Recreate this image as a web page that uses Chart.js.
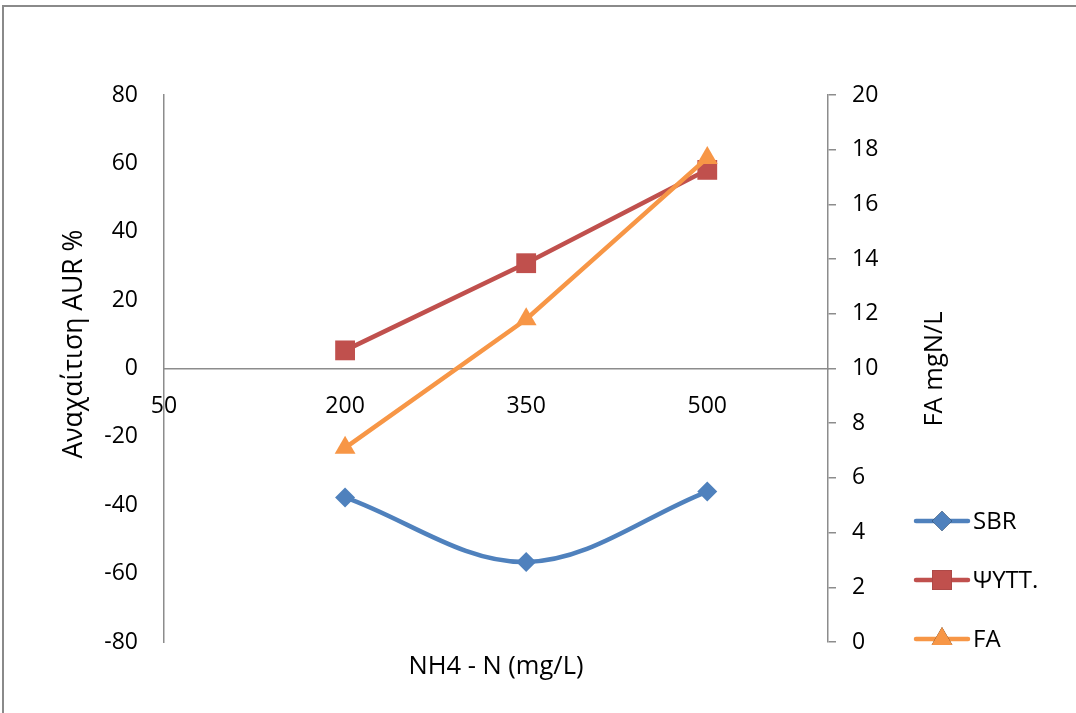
<!DOCTYPE html>
<html>
<head>
<meta charset="utf-8">
<script src="https://cdn.jsdelivr.net/npm/chart.js@4/dist/chart.umd.min.js"></script>
<style>
  html, body { margin: 0; padding: 0; background: #ffffff; }
  #wrap { position: relative; width: 1076px; height: 713px; }
  canvas { display: block; }
</style>
</head>
<body>
<div id="wrap"><canvas id="chart" width="1076" height="713"></canvas></div>
<script>
// NH4-N loading (mg/L) for each run
const nh4Levels = [200, 350, 500];
// AUR inhibition (%) per reactor
const sbrValues = [-37.7, -56.6, -36.0];
const psyttValues = [5.3, 30.8, 58.1];
// Free ammonia (mgN/L)
const faValues = [7.1, 11.8, 17.7];

// Axis tick labels
const xTicks = [50, 200, 350, 500];
const leftTicks = [-80, -60, -40, -20, 0, 20, 40, 60, 80];
const rightTicks = [0, 2, 4, 6, 8, 10, 12, 14, 16, 18, 20];

const seriesNames = ['SBR', 'ΨΥΤΤ.', 'FA'];
const axisTitles = { x: 'NH4 - N (mg/L)', left: 'Αναχαίτιση AUR %', right: 'FA mgN/L' };

const FONT = '"Open Sans", "Liberation Sans", sans-serif';
const AXIS_GREY = '#8c8c8c';

const toPoints = (xs, ys) => xs.map((x, i) => ({ x: x, y: ys[i] }));

const datasets = [
  {
    label: seriesNames[0],
    data: toPoints(nh4Levels, sbrValues),
    yAxisID: 'y',
    borderColor: '#4f81bd',
    backgroundColor: '#4f81bd',
    borderWidth: 4.5,
    pointStyle: 'rectRot',
    pointRadius: 10,
    pointBorderWidth: 0,
    tension: 0.35,
    order: 2
  },
  {
    label: seriesNames[1],
    data: toPoints(nh4Levels, psyttValues),
    yAxisID: 'y',
    borderColor: '#c0504d',
    backgroundColor: '#c0504d',
    borderWidth: 4.5,
    pointStyle: 'rect',
    pointRadius: 14,
    pointBorderWidth: 0,
    tension: 0,
    order: 1
  },
  {
    label: seriesNames[2],
    data: toPoints(nh4Levels, faValues),
    yAxisID: 'y1',
    borderColor: '#f79646',
    backgroundColor: '#f79646',
    borderWidth: 4.5,
    pointStyle: 'triangle',
    pointRadius: 12,
    pointBorderWidth: 0,
    tension: 0,
    order: 0
  }
];

// Frame, axis titles and the side legend
const decorations = {
  id: 'decorations',
  afterDraw(chart) {
    const ctx = chart.ctx;
    ctx.save();
    ctx.strokeStyle = '#8a8a8a';
    ctx.lineWidth = 2;
    ctx.beginPath();
    ctx.moveTo(3, 720);
    ctx.lineTo(3, 6);
    ctx.lineTo(1090, 6);
    ctx.stroke();

    ctx.fillStyle = '#000000';
    ctx.font = '25.5px ' + FONT;
    ctx.textAlign = 'center';
    ctx.textBaseline = 'middle';
    ctx.fillText(axisTitles.x, 496, 667);

    ctx.save();
    ctx.translate(74, 344);
    ctx.rotate(-Math.PI / 2);
    ctx.font = '26.5px ' + FONT;
    ctx.fillText(axisTitles.left, 0, 0);
    ctx.restore();

    ctx.save();
    ctx.translate(935, 369);
    ctx.rotate(-Math.PI / 2);
    ctx.font = '25.5px ' + FONT;
    ctx.fillText(axisTitles.right, 0, 0);
    ctx.restore();

    // legend
    const rows = [521, 580, 639];
    ctx.font = '24px ' + FONT;
    chart.data.datasets.forEach((ds, i) => {
      const y = rows[i];
      ctx.strokeStyle = ds.borderColor;
      ctx.lineWidth = ds.borderWidth;
      ctx.lineCap = 'round';
      ctx.beginPath();
      ctx.moveTo(916, y);
      ctx.lineTo(968, y);
      ctx.stroke();
      Chart.helpers.drawPoint(ctx, {
        pointStyle: ds.pointStyle,
        radius: ds.pointRadius,
        rotation: 0,
        borderWidth: 0
      }, 942, y);
      ctx.fillStyle = ds.backgroundColor;
      ctx.fill();
      ctx.fillStyle = '#000000';
      ctx.textAlign = 'left';
      ctx.fillText(ds.label, 973, y + 1);
    });
    ctx.restore();
  }
};

new Chart(document.getElementById('chart'), {
  type: 'line',
  data: { datasets: datasets },
  plugins: [decorations],
  options: {
    responsive: false,
    animation: false,
    devicePixelRatio: 1,
    layout: { padding: { top: 95, bottom: 71, left: 0, right: 0 } },
    plugins: { legend: { display: false }, tooltip: { enabled: false } },
    scales: {
      x: {
        type: 'linear',
        position: { y: 0 },
        min: 50,
        max: 600,
        afterBuildTicks: (scale) => { scale.ticks = xTicks.map(v => ({ value: v })); },
        grid: { display: false, drawTicks: false },
        border: { display: true, color: AXIS_GREY, width: 1.5 },
        ticks: { color: '#000000', font: { family: FONT, size: 23 }, padding: 24, maxRotation: 0, autoSkip: false }
      },
      y: {
        position: 'left',
        min: -80,
        max: 80,
        afterBuildTicks: (scale) => { scale.ticks = leftTicks.map(v => ({ value: v })); },
        afterFit: (scale) => { scale.width = 164; },
        grid: { display: false, drawTicks: false },
        border: { display: true, color: AXIS_GREY, width: 1.5 },
        ticks: { color: '#000000', font: { family: FONT, size: 23 }, padding: 26 }
      },
      y1: {
        position: 'right',
        min: 0,
        max: 20,
        afterBuildTicks: (scale) => { scale.ticks = rightTicks.map(v => ({ value: v })); },
        afterFit: (scale) => { scale.width = 248; },
        grid: { display: true, drawOnChartArea: false, drawTicks: true, tickLength: 8, color: AXIS_GREY, lineWidth: 1.5 },
        border: { display: true, color: AXIS_GREY, width: 1.5 },
        ticks: { color: '#000000', font: { family: FONT, size: 23 }, padding: 16 }
      }
    }
  }
});
</script>
</body>
</html>
